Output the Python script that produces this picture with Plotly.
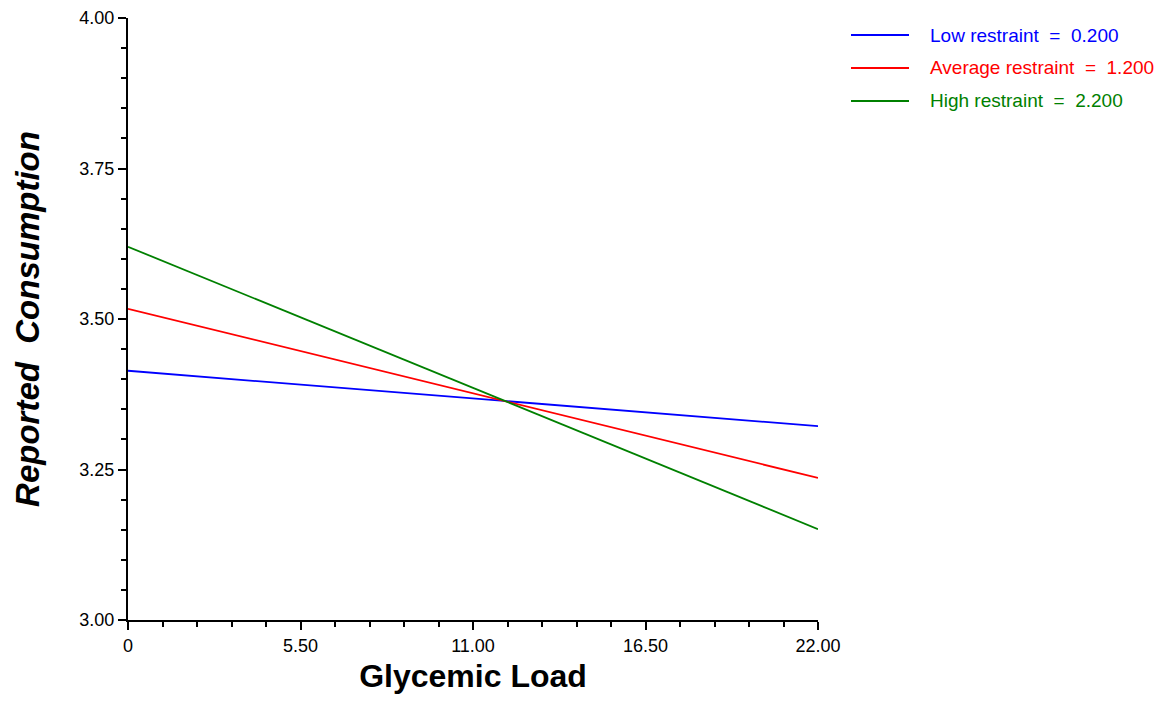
import plotly.graph_objects as go

# Data
x_vals = [0, 22]
series_names = ["Low restraint\u00a0 =\u00a0 0.200", "Average restraint\u00a0 =\u00a0 1.200", "High restraint\u00a0 =\u00a0 2.200"]
series_colors = ["#0000ff", "#ff0000", "#008000"]
low_vals = [3.414, 3.322]
avg_vals = [3.517, 3.236]
high_vals = [3.620, 3.151]
x_tickvals = [0, 5.5, 11, 16.5, 22]
x_ticktext = ["0", "5.50", "11.00", "16.50", "22.00"]
y_tickvals = [3.0, 3.25, 3.5, 3.75, 4.0]
y_ticktext = ["3.00", "3.25", "3.50", "3.75", "4.00"]

# page has an 8px body margin; size figure so plot area lands where the reference has it
OFF = 8
W, H = 1148, 686
L, T = 128 - OFF, 18 - OFF
pw, ph = 690, 602
R = W - L - pw
B = H - T - ph

FONT = "Liberation Sans, Arial, sans-serif"

fig = go.Figure()
for name, color, vals in zip(series_names, series_colors, [low_vals, avg_vals, high_vals]):
    fig.add_trace(go.Scatter(x=x_vals, y=vals, mode="lines", name=name,
                             line=dict(color=color, width=1.8), showlegend=False))

# manual legend (positions in reference pixel space)
def px2x(px):
    return (px - OFF - L) / pw

def py2y(py):
    return (T + ph - (py - OFF)) / ph

leg_y = [35, 68, 101]
for name, color, py in zip(series_names, series_colors, leg_y):
    fig.add_shape(type="line", xref="paper", yref="paper",
                  x0=px2x(851), x1=px2x(909), y0=py2y(py), y1=py2y(py),
                  line=dict(color=color, width=1.8))
    fig.add_annotation(xref="paper", yref="paper", x=px2x(928), y=py2y(py),
                       text=name, showarrow=False, xanchor="left", yanchor="middle",
                       xshift=0, font=dict(family=FONT, size=19, color=color))

fig.update_layout(
    width=W, height=H,
    margin=dict(l=L, r=R, t=T, b=B, autoexpand=False),
    paper_bgcolor="white", plot_bgcolor="white",
    font=dict(family=FONT, size=18, color="black"),
    showlegend=False,
)
fig.update_xaxes(
    range=[0, 22], tickvals=x_tickvals, ticktext=x_ticktext,
    showgrid=False, zeroline=False, showline=True, linecolor="black", linewidth=2,
    ticks="outside", ticklen=8, tickwidth=2, tickcolor="black",
    minor=dict(dtick=1.1, tick0=0, ticks="outside", ticklen=5, tickwidth=2, tickcolor="black", showgrid=False),
    tickfont=dict(family=FONT, size=18, color="black"),
    title=dict(text="<b>Glycemic Load</b>", font=dict(family=FONT, size=32, color="black"), standoff=17),
)
fig.update_yaxes(
    range=[3.0, 4.0], tickvals=y_tickvals, ticktext=y_ticktext,
    showgrid=False, zeroline=False, showline=True, linecolor="black", linewidth=2,
    ticks="outside", ticklen=8, tickwidth=2, tickcolor="black",
    minor=dict(dtick=0.05, tick0=0, ticks="outside", ticklen=5, tickwidth=2, tickcolor="black", showgrid=False),
    tickfont=dict(family=FONT, size=18, color="black"),
    title=dict(text="<b><i>Reported\u00a0 Consumption</i></b>", font=dict(family=FONT, size=33, color="black"), standoff=30),
)

fig.write_html("out.html")
